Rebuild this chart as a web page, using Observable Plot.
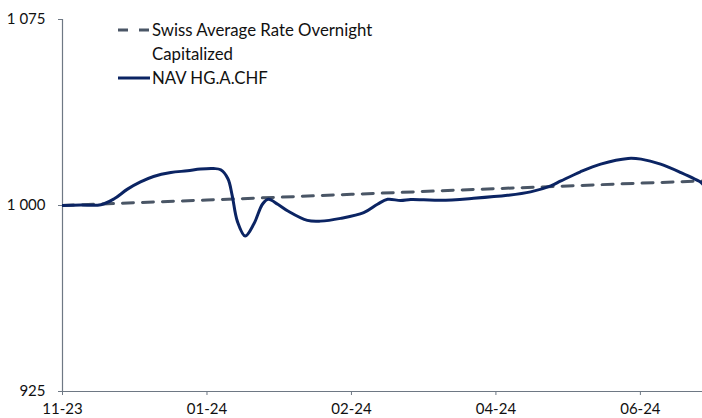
<!DOCTYPE html>
<html>
<head>
<meta charset="utf-8">
<script src="https://cdn.jsdelivr.net/npm/d3@7"></script>
<script src="https://cdn.jsdelivr.net/npm/@observablehq/plot@0.6"></script>
<style>
  html, body { margin: 0; padding: 0; background: #fff; }
  #wrap { position: relative; width: 702px; height: 418px; font-family: Lato, "Open Sans", sans-serif; }
  #legend { position: absolute; left: 118px; top: 18px; font-size: 16.8px; color: #111; line-height: 24px; }
  .row { display: flex; align-items: center; height: 24px; }
  .row svg { flex: none; margin-right: 2px; }
  .indent { padding-left: 34px; }
</style>
</head>
<body>
<div id="wrap">
  <div id="chart"></div>
  <div id="legend"></div>
</div>
<script>
// X positions are category indices (one label every 20 periods)
const tickIdx = [0, 20, 40, 60, 80];
const tickLabels = ["11-23", "01-24", "02-24", "04-24", "06-24"];
const xEnd = 88.6;

// NAV HG.A.CHF
const navT = [0, 2.5, 5.3, 7.1, 9.0, 10.8, 12.6, 15.0, 17.3, 19.1, 20.9, 21.9, 22.9, 23.5, 24.2, 25.3, 26.5, 27.7, 28.5, 29.8, 31.2, 33.9, 35.7, 38.5, 41.7, 43.6, 45.0, 46.8, 48.2, 50.0, 52.4, 56.9, 61.6, 64.8, 67.6, 69.0, 71.7, 74.5, 78.3, 80.1, 82.8, 85.6, 88.4, 88.6];
const navV = [1000.0, 1000.2, 1000.3, 1002.6, 1006.6, 1009.5, 1011.7, 1013.3, 1014.0, 1014.7, 1014.9, 1014.4, 1010.8, 1003.9, 993.7, 987.7, 992.6, 1000.6, 1002.5, 1000.5, 997.8, 994.0, 993.7, 994.8, 997.1, 1000.5, 1002.5, 1002.0, 1002.4, 1002.3, 1002.1, 1002.9, 1004.1, 1005.5, 1007.9, 1009.9, 1013.6, 1016.7, 1019.0, 1018.7, 1016.7, 1013.3, 1009.3, 1008.7];

// Swiss Average Rate Overnight Capitalized
const sarT = [0, 20, 40, 60, 80, 88.6];
const sarV = [1000.0, 1002.2, 1004.5, 1006.8, 1009.0, 1009.9];

const yTicks = [925, 1000, 1075];

const seriesNames = ["Swiss Average Rate Overnight Capitalized", "NAV HG.A.CHF"];
const navColor = "#0b2463";
const sarColor = "#4a5666";
const axisColor = "#6e7884";

const nav = navT.map((t, i) => ({t, v: navV[i]}));
const sar = sarT.map((t, i) => ({t, v: sarV[i]}));

const fmt = d3.formatLocale({decimal: ".", thousands: " ", grouping: [3], currency: ["", ""]}).format(",");

const chart = Plot.plot({
  width: 702,
  height: 418,
  marginLeft: 62,
  marginRight: 0,
  marginTop: 19,
  marginBottom: 27,
  style: {fontFamily: "Lato, 'Open Sans', sans-serif", fontSize: "15px", color: "#111", background: "#fff", overflow: "visible"},
  x: {domain: [0, xEnd]},
  y: {domain: [925, 1075]},
  marks: [
    Plot.axisY({ticks: yTicks, tickFormat: fmt, tickSize: 4, tickPadding: 13, stroke: axisColor, fill: "#111", fontSize: 15, label: null}),
    Plot.axisX({ticks: tickIdx, tickFormat: (d) => tickLabels[tickIdx.indexOf(d)], tickSize: 4, tickPadding: 8, stroke: axisColor, fill: "#111", fontSize: 15, label: null}),
    Plot.ruleX([0], {stroke: axisColor, strokeWidth: 1.2}),
    Plot.ruleY([925], {stroke: axisColor, strokeWidth: 1.2}),
    Plot.line(sar, {x: "t", y: "v", stroke: sarColor, strokeWidth: 3, strokeDasharray: "11,9", clip: true}),
    Plot.line(nav, {x: "t", y: "v", stroke: navColor, strokeWidth: 3, curve: "catmull-rom", clip: true})
  ]
});
document.getElementById("chart").appendChild(chart);

// Legend overlay
const legend = d3.select("#legend");
const r1 = legend.append("div").attr("class", "row");
r1.append("svg").attr("width", 32).attr("height", 24)
  .append("line").attr("x1", 0).attr("x2", 32).attr("y1", 12).attr("y2", 12)
  .attr("stroke", sarColor).attr("stroke-width", 3).attr("stroke-dasharray", "10,11");
r1.append("span").text("Swiss Average Rate Overnight");
legend.append("div").attr("class", "row indent").text("Capitalized");
const r2 = legend.append("div").attr("class", "row");
r2.append("svg").attr("width", 32).attr("height", 24)
  .append("line").attr("x1", 0).attr("x2", 32).attr("y1", 12).attr("y2", 12)
  .attr("stroke", navColor).attr("stroke-width", 3);
r2.append("span").text(seriesNames[1]);
</script>
</body>
</html>
